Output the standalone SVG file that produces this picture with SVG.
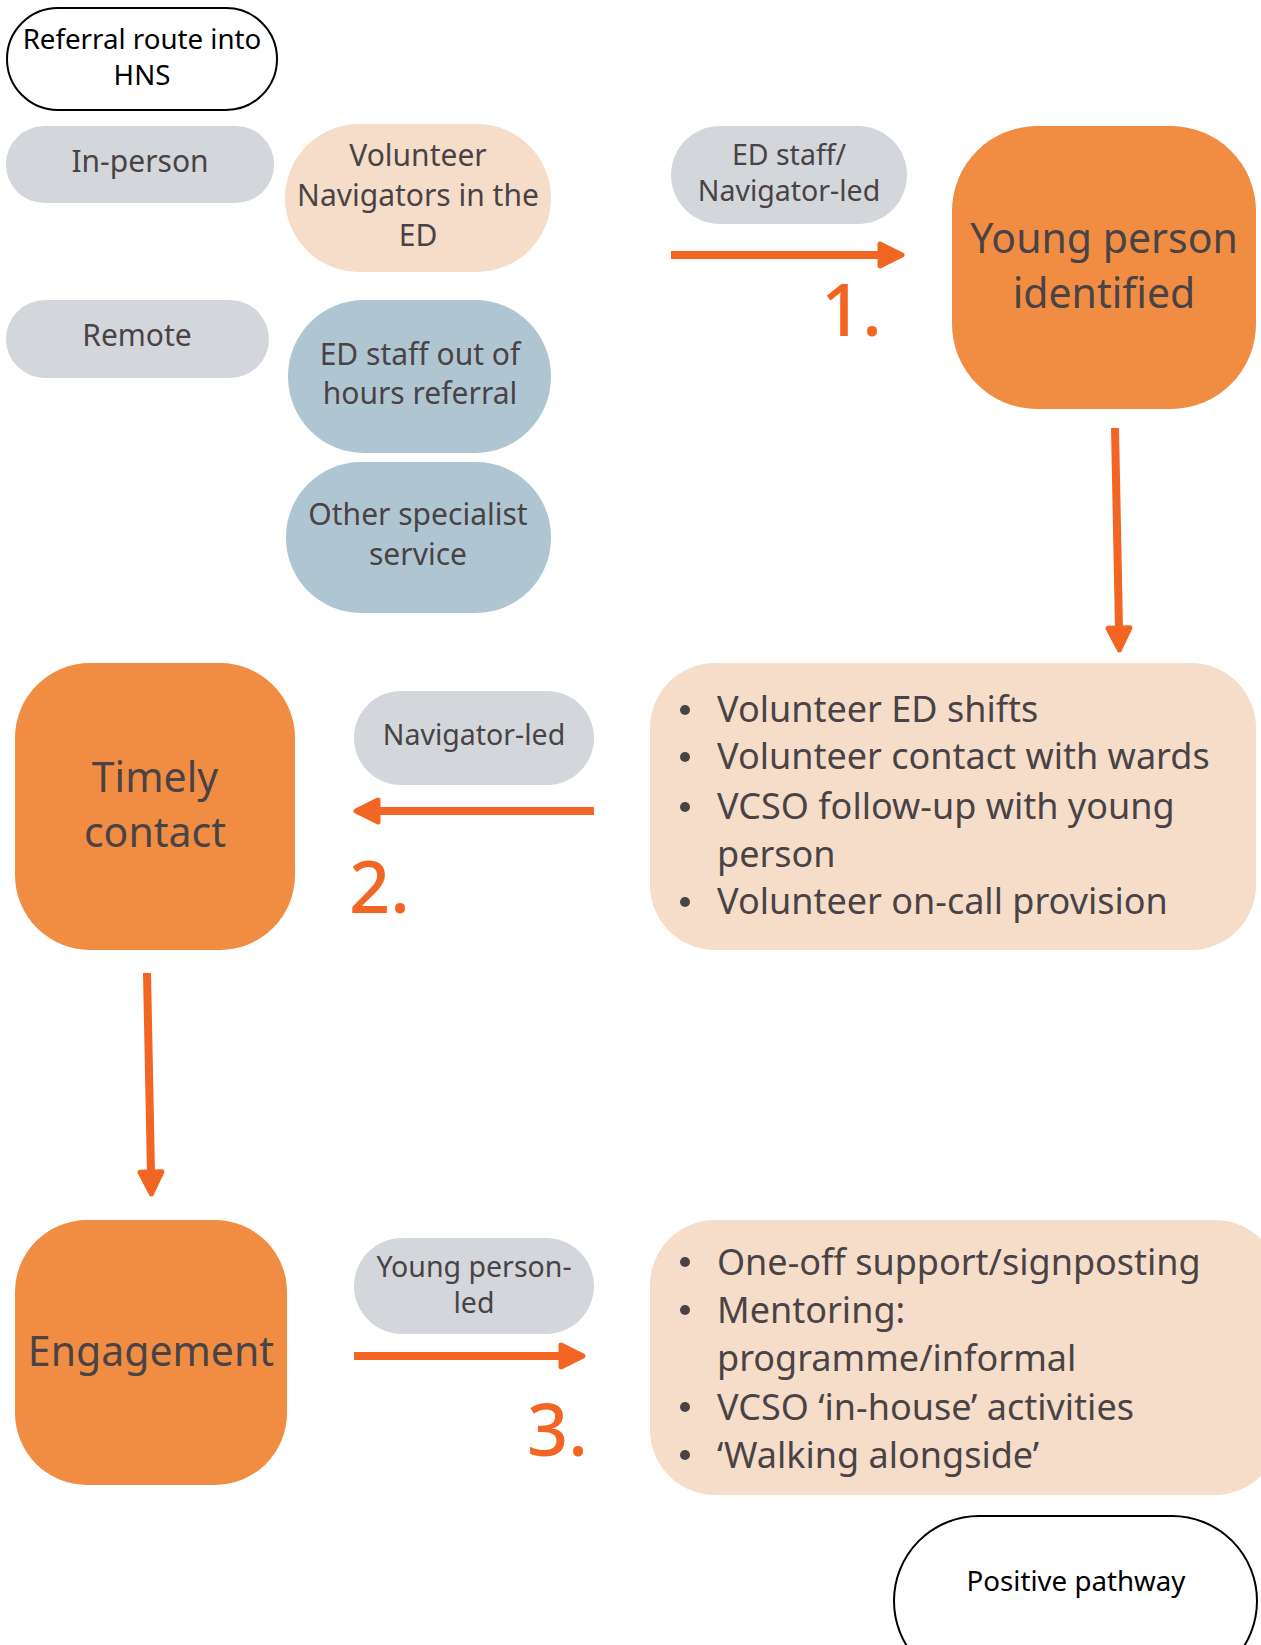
<svg xmlns="http://www.w3.org/2000/svg" width="1261" height="1645" viewBox="0 0 1261 1645">
<style>
.t{font-family:"Noto Sans","Open Sans","DejaVu Sans",sans-serif;fill:#4a4346;text-anchor:middle}
.b{font-family:"Noto Sans","Open Sans","DejaVu Sans",sans-serif;fill:#4a4346;font-size:36px}
.k{font-family:"Noto Sans","Open Sans","DejaVu Sans",sans-serif;fill:#000;text-anchor:middle;font-size:27.7px}
.n{font-family:"Noto Sans","Open Sans","DejaVu Sans",sans-serif;fill:#f26522;font-size:72px;font-weight:500}
.big{font-size:41px}
.sm{font-size:28.5px}
.md{font-size:30px}
.grey{fill:#d3d6db}
.peach{fill:#f5ddca}
.blue{fill:#afc6d2}
.orange{fill:#f18d43}
.outline{fill:#fff;stroke:#000;stroke-width:2}
.arr{stroke:#f26522;stroke-width:8;fill:none;marker-end:url(#ah)}
.dot{fill:#4a4346}
</style>
<defs>
<marker id="ah" markerUnits="userSpaceOnUse" markerWidth="40" markerHeight="40" refX="6" refY="20" orient="auto">
<path d="M6,9 L28,20 L6,31 Z" fill="#f26522" stroke="#f26522" stroke-width="5" stroke-linejoin="round"/>
</marker>
</defs>
<rect width="1261" height="1645" fill="#fff"/>

<g id="referral">
<rect class="outline" x="7" y="8" width="270" height="102" rx="51"/>
<text class="k" x="142" y="49">Referral route into</text>
<text class="k" x="142" y="85">HNS</text>
</g>
<g id="in-person">
<rect class="grey" x="6" y="126" width="268" height="77" rx="38"/>
<text class="t md" x="140" y="172">In-person</text>
</g>
<g id="remote">
<rect class="grey" x="6" y="300" width="263" height="78" rx="39"/>
<text class="t md" x="137" y="346">Remote</text>
</g>
<g id="volunteer-navigators">
<rect class="peach" x="285" y="124" width="266" height="148" rx="74"/>
<text class="t md" x="418" y="166">Volunteer</text>
<text class="t md" x="418" y="206">Navigators in the</text>
<text class="t md" x="418" y="246">ED</text>
</g>
<g id="ed-out-of-hours">
<rect class="blue" x="288" y="300" width="263" height="153" rx="76"/>
<text class="t md" x="420" y="365">ED staff out of</text>
<text class="t md" x="420" y="404">hours referral</text>
</g>
<g id="other-specialist">
<rect class="blue" x="286" y="462" width="265" height="151" rx="75"/>
<text class="t md" x="418" y="525">Other specialist</text>
<text class="t md" x="418" y="565">service</text>
</g>
<g id="ed-navigator-led">
<rect class="grey" x="671" y="126" width="236" height="98" rx="49"/>
<text class="t sm" x="789" y="165">ED staff/</text>
<text class="t sm" x="789" y="201">Navigator-led</text>
</g>
<g id="young-person-identified">
<rect class="orange" x="952" y="126" width="304" height="283" rx="85"/>
<text class="t big" x="1104" y="253">Young person</text>
<text class="t big" x="1104" y="308">identified</text>
</g>
<g id="activities-1">
<rect class="peach" x="650" y="663" width="606" height="287" rx="65"/>
<circle class="dot" cx="685" cy="710" r="5"/>
<circle class="dot" cx="685" cy="757" r="5"/>
<circle class="dot" cx="685" cy="807" r="5"/>
<circle class="dot" cx="685" cy="902" r="5"/>
<text class="b" x="717" y="722">Volunteer ED shifts</text>
<text class="b" x="717" y="769">Volunteer contact with wards</text>
<text class="b" x="717" y="819">VCSO follow-up with young</text>
<text class="b" x="717" y="867">person</text>
<text class="b" x="717" y="914">Volunteer on-call provision</text>
</g>
<g id="timely-contact">
<rect class="orange" x="15" y="663" width="280" height="287" rx="75"/>
<text class="t big" x="155" y="792">Timely</text>
<text class="t big" x="155" y="847">contact</text>
</g>
<g id="navigator-led">
<rect class="grey" x="354" y="691" width="240" height="94" rx="47"/>
<text class="t sm" x="474" y="745">Navigator-led</text>
</g>
<g id="engagement">
<rect class="orange" x="15" y="1220" width="272" height="265" rx="72"/>
<text class="t big" x="151" y="1366">Engagement</text>
</g>
<g id="young-person-led">
<rect class="grey" x="354" y="1238" width="240" height="96" rx="48"/>
<text class="t sm" x="474" y="1277">Young person-</text>
<text class="t sm" x="474" y="1313">led</text>
</g>
<g id="activities-2">
<rect class="peach" x="650" y="1220" width="630" height="275" rx="65"/>
<circle class="dot" cx="685" cy="1262" r="5"/>
<circle class="dot" cx="685" cy="1310" r="5"/>
<circle class="dot" cx="685" cy="1407" r="5"/>
<circle class="dot" cx="685" cy="1455" r="5"/>
<text class="b" x="717" y="1275">One-off support/signposting</text>
<text class="b" x="717" y="1323">Mentoring:</text>
<text class="b" x="717" y="1371">programme/informal</text>
<text class="b" x="717" y="1420">VCSO ‘in-house’ activities</text>
<text class="b" x="717" y="1468">‘Walking alongside’</text>
</g>
<g id="positive-pathway">
<rect class="outline" x="894" y="1516" width="363" height="170" rx="85"/>
<text class="k" x="1076" y="1591">Positive pathway</text>
</g>

<g id="connectors">
<line class="arr" x1="671" y1="255" x2="880" y2="255"/>
<line class="arr" x1="1115" y1="428" x2="1119" y2="628"/>
<line class="arr" x1="594" y1="811" x2="378" y2="811"/>
<line class="arr" x1="147" y1="973" x2="151" y2="1172"/>
<line class="arr" x1="354" y1="1356" x2="561" y2="1356"/>
</g>
<g id="step-labels">
<text class="n" x="821" y="336">1.</text>
<text class="n" x="349" y="913">2.</text>
<text class="n" x="527" y="1456">3.</text>
</g>
</svg>
